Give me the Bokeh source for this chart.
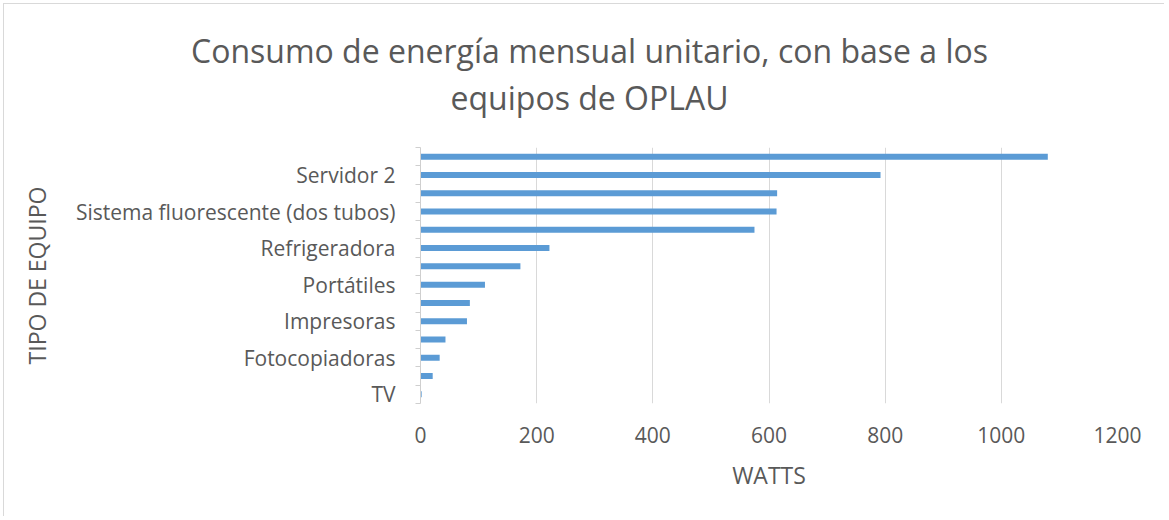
from bokeh.plotting import figure
from bokeh.layouts import column, row
from bokeh.models import Range1d, FixedTicker, ColumnDataSource
from bokeh.core.properties import value
from bokeh.embed import file_html
from bokeh.resources import INLINE

# Data (bottom to top, as drawn); names not printed on the chart are left blank
labels = ["TV", "", "Fotocopiadoras", "", "Impresoras", "", "Portátiles", "",
          "Refrigeradora", "", "Sistema fluorescente (dos tubos)", "", "Servidor 2", ""]
watts = [2, 21, 33, 43, 80, 85, 111, 172, 222, 575, 613, 614, 792, 1080]
x_ticks = [0, 200, 400, 600, 800, 1000, 1200]
title_lines = ["Consumo de energía mensual unitario, con base a los", "equipos de OPLAU"]
x_title = "WATTS"
y_title = "TIPO DE EQUIPO"

FONT = "Open Sans"
GRAY = "#595959"
BAR = "#5B9BD5"
BORDER = "#d9d9d9"

OX, OY = 4, 4          # chart box starts after a 3px margin + 1px border
W, H = 1160, 512       # content size
TH = 126               # title strip height

# ---- title strip ----
t = figure(width=W, height=TH, output_backend="svg", toolbar_location=None,
           x_range=Range1d(0, W), y_range=Range1d(TH, 0),
           x_axis_type=None, y_axis_type=None, min_border=0)
t.outline_line_color = None
t.grid.grid_line_color = None
t.text(x=[589 - OX, 589 - OX], y=[50 - OY, 97 - OY], text=title_lines, text_align="center",
       text_baseline="middle", text_font=value(FONT), text_font_size="32px",
       text_color=GRAY)

# ---- main chart ----
n = len(watts)
centers = [i + 0.5 for i in range(n)]
src = ColumnDataSource(dict(y=centers, w=watts))

top0 = OY + TH
p = figure(width=W, height=H - TH, output_backend="svg", toolbar_location=None,
           x_range=Range1d(0, 1200), y_range=Range1d(0, n),
           min_border_left=420 - OX, min_border_right=OX + W - 1117,
           min_border_top=147 - top0, min_border_bottom=OY + H - 403)
p.outline_line_color = None
p.hbar(y="y", right="w", left=0, height=0.33, source=src, fill_color=BAR, line_color=None)

p.xaxis.ticker = FixedTicker(ticks=x_ticks)
p.xaxis.axis_line_color = None
p.xaxis.major_tick_line_color = None
p.xaxis.minor_tick_line_color = None
p.xaxis.major_label_text_font = FONT
p.xaxis.major_label_text_font_size = "21px"
p.xaxis.major_label_text_color = GRAY
p.xaxis.major_label_standoff = 17
p.xaxis.axis_label = x_title
p.xaxis.axis_label_text_font = FONT
p.xaxis.axis_label_text_font_size = "23px"
p.xaxis.axis_label_text_font_style = "normal"
p.xaxis.axis_label_text_color = GRAY
p.xaxis.axis_label_standoff = 13

p.xgrid.grid_line_color = BORDER
p.ygrid.grid_line_color = None

p.yaxis.ticker = FixedTicker(ticks=centers, minor_ticks=list(range(n + 1)))
p.yaxis.major_label_overrides = {c: lab for c, lab in zip(centers, labels)}
p.yaxis.major_tick_out = 0
p.yaxis.major_tick_in = 0
p.yaxis.minor_tick_out = 5
p.yaxis.minor_tick_in = 0
p.yaxis.minor_tick_line_color = "#cfcfcf"
p.yaxis.axis_line_color = "#cfcfcf"
p.yaxis.major_label_text_font = FONT
p.yaxis.major_label_text_font_size = "21px"
p.yaxis.major_label_text_color = GRAY
p.yaxis.major_label_standoff = 20
p.yaxis.axis_label = y_title
p.yaxis.axis_label_text_font = FONT
p.yaxis.axis_label_text_font_size = "23px"
p.yaxis.axis_label_text_font_style = "normal"
p.yaxis.axis_label_text_color = GRAY
p.yaxis.axis_label_standoff = 20

layout = column(t, row(p, spacing=0), spacing=0,
                styles={"margin-left": "3px", "margin-top": "3px",
                        "border-left": "1px solid " + BORDER,
                        "border-top": "1px solid " + BORDER})
open("out.html", "w").write(file_html(layout, INLINE))
